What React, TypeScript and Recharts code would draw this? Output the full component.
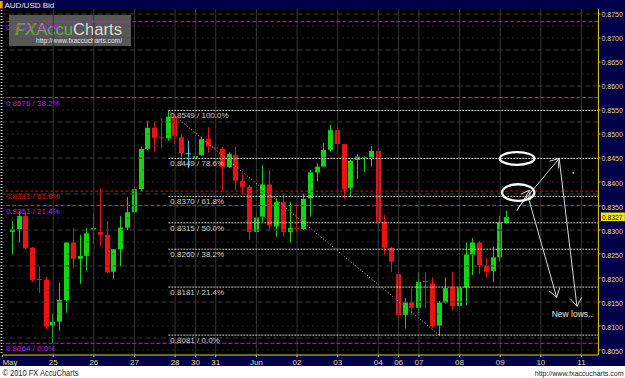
import React from 'react';
import { ComposedChart, Bar, XAxis, YAxis, ReferenceLine, ReferenceDot } from 'recharts';

// ---- data: 4-hour AUD/USD candles (bar index, 0 = first bar of May 25) ----
const barIndex = [-6, -5, -4, -3, -2, -1, 0, 1, 2, 3, 4, 5, 6, 7, 8, 9, 10, 11, 12, 13, 14, 15, 16, 17, 18, 19, 20, 21, 22, 23, 24, 25, 26, 27, 28, 29, 30, 31, 32, 33, 34, 35, 36, 37, 38, 39, 40, 41, 42, 43, 44, 45, 46, 47, 48, 49, 50, 51, 52, 53, 54, 55, 56, 57, 58, 59, 60, 61, 62, 63, 64, 65, 66, 67];
const openP = [0.8296, 0.8302, 0.8329, 0.8263, 0.8198, 0.8196, 0.8101, 0.8109, 0.8154, 0.8274, 0.8240, 0.8246, 0.8301, 0.8296, 0.8290, 0.8213, 0.8260, 0.8305, 0.8337, 0.8385, 0.8469, 0.8513, 0.8493, 0.8491, 0.8536, 0.8493, 0.8460, 0.8449, 0.8456, 0.8490, 0.8472, 0.8469, 0.8431, 0.8456, 0.8402, 0.8390, 0.8296, 0.8328, 0.8395, 0.8307, 0.8358, 0.8296, 0.8304, 0.8302, 0.8366, 0.8420, 0.8432, 0.8467, 0.8508, 0.8479, 0.8388, 0.8446, 0.8449, 0.8451, 0.8465, 0.8317, 0.8263, 0.8208, 0.8123, 0.8149, 0.8138, 0.8194, 0.8189, 0.8101, 0.8149, 0.8180, 0.8142, 0.8180, 0.8249, 0.8274, 0.8226, 0.8215, 0.8243, 0.8315];
const highP = [0.8319, 0.8338, 0.8338, 0.8265, 0.8224, 0.8203, 0.8126, 0.8190, 0.8274, 0.8304, 0.8290, 0.8304, 0.8335, 0.8387, 0.8319, 0.8260, 0.8329, 0.8369, 0.8415, 0.8474, 0.8528, 0.8524, 0.8533, 0.8549, 0.8543, 0.8501, 0.8486, 0.8473, 0.8495, 0.8514, 0.8479, 0.8473, 0.8462, 0.8474, 0.8418, 0.8394, 0.8338, 0.8435, 0.8425, 0.8366, 0.8373, 0.8358, 0.8354, 0.8376, 0.8425, 0.8439, 0.8481, 0.8519, 0.8520, 0.8479, 0.8446, 0.8458, 0.8453, 0.8475, 0.8470, 0.8331, 0.8265, 0.8224, 0.8158, 0.8179, 0.8212, 0.8212, 0.8201, 0.8152, 0.8201, 0.8213, 0.8201, 0.8274, 0.8283, 0.8277, 0.8242, 0.8265, 0.8330, 0.8340];
const lowP = [0.8249, 0.8274, 0.8260, 0.8192, 0.8169, 0.8093, 0.8064, 0.8090, 0.8128, 0.8220, 0.8188, 0.8215, 0.8271, 0.8267, 0.8210, 0.8198, 0.8224, 0.8299, 0.8335, 0.8380, 0.8467, 0.8463, 0.8470, 0.8486, 0.8479, 0.8435, 0.8429, 0.8429, 0.8455, 0.8461, 0.8441, 0.8382, 0.8429, 0.8383, 0.8374, 0.8279, 0.8279, 0.8317, 0.8300, 0.8286, 0.8286, 0.8274, 0.8296, 0.8300, 0.8328, 0.8402, 0.8432, 0.8463, 0.8462, 0.8365, 0.8369, 0.8406, 0.8421, 0.8432, 0.8296, 0.8249, 0.8212, 0.8102, 0.8095, 0.8123, 0.8123, 0.8137, 0.8096, 0.8081, 0.8147, 0.8133, 0.8130, 0.8144, 0.8206, 0.8208, 0.8201, 0.8192, 0.8234, 0.8313];
const closeP = [0.8301, 0.8329, 0.8262, 0.8196, 0.8196, 0.8099, 0.8109, 0.8154, 0.8274, 0.8240, 0.8246, 0.8293, 0.8304, 0.8290, 0.8212, 0.8260, 0.8305, 0.8337, 0.8385, 0.8469, 0.8513, 0.8492, 0.8491, 0.8536, 0.8496, 0.8460, 0.8458, 0.8454, 0.8489, 0.8474, 0.8471, 0.8432, 0.8458, 0.8403, 0.8390, 0.8296, 0.8326, 0.8395, 0.8309, 0.8358, 0.8296, 0.8304, 0.8302, 0.8365, 0.8420, 0.8432, 0.8467, 0.8508, 0.8479, 0.8385, 0.8444, 0.8453, 0.8451, 0.8465, 0.8317, 0.8263, 0.8234, 0.8123, 0.8149, 0.8138, 0.8192, 0.8192, 0.8099, 0.8149, 0.8179, 0.8142, 0.8180, 0.8249, 0.8274, 0.8227, 0.8213, 0.8243, 0.8316, 0.8327];
const highlightBar = 20;

// ---- axes ----
const xDomain = [-7.5, 80.5];
const dayTicks = [-7.5, 0, 6, 12, 18, 21, 24, 30, 36, 42, 48, 51, 54, 60, 66, 72, 78];
const dayLabels = ['May', '25', '26', '27', '28', '30', '31', 'Jun', '02', '03', '04', '06', '07', '08', '09', '10', '11'];
const yDomain = [0.80396, 0.87604];
const priceTicks = [0.805, 0.81, 0.815, 0.82, 0.825, 0.83, 0.835, 0.84, 0.845, 0.85, 0.855, 0.86, 0.865, 0.87, 0.875];
const gridMajor = [0.875, 0.8675, 0.86, 0.8525, 0.845, 0.8375, 0.83, 0.8225, 0.815, 0.8075];
const gridMinor = [0.8725, 0.87, 0.865, 0.8625, 0.8575, 0.855, 0.85, 0.8475, 0.8425, 0.84, 0.835, 0.8325, 0.8275, 0.825, 0.82, 0.8175, 0.8125, 0.81, 0.805];

// ---- fibonacci annotations ----
const fibWideLevels = [0.8734, 0.8576, 0.8351, 0.8064];
const fibWidePct = ['50.0%', '38.2%', '21.4%', '0.0%'];
const fibRedLevel = 0.8381;
const fibRedPct = '61.8%';
const fibLevels = [0.8549, 0.8449, 0.837, 0.8315, 0.826, 0.8181, 0.8081];
const fibPct = ['100.0%', '78.6%', '61.8%', '50.0%', '38.2%', '21.4%', '0.0%'];
const fibStartBar = 17;
const trendStart = { x: 17, y: 0.8549 };
const trendEnd = { x: 57, y: 0.8081 };

// ---- hand-drawn projection ----
const ringCenters = [{ x: 68.5, y: 0.8449 }, { x: 68.66, y: 0.8378 }];
const arrowFrom = [{ x: 68.46, y: 0.834 }, { x: 70.13, y: 0.8369 }, { x: 68.55, y: 0.8345 }, { x: 74.71, y: 0.8449 }];
const arrowTo = [{ x: 70.36, y: 0.8383 }, { x: 74.33, y: 0.816 }, { x: 74.71, y: 0.8449 }, { x: 77.33, y: 0.8141 }];
const noteAt = { x: 73.6, y: 0.8119 };
const noteText = 'New lows..';
const dotAt = { x: 76.78, y: 0.8419 };

const rows = barIndex.map((idx, i) => ({ idx, open: openP[i], high: highP[i], low: lowP[i], close: closeP[i] }));
const lastClose = closeP[closeP.length - 1];

// ---- style ----
const FONT = '"Liberation Sans", Arial, Helvetica, sans-serif';
const NAVY = '#00004a';
const GREEN = '#12d412';
const RED = '#f01010';
const CYAN = '#40c8f0';
const AXIS_Y = '#e8d200';
const MAGENTA = '#cc11cc';
const MAGENTA_TXT = '#c414e8';
const FIB = '#c8d0c0';
const RING_SIZE = [[17.3, 6.3], [16.2, 8.3]];

function Candle(props: any) {
  const { x, y, width, height, payload } = props;
  if (!payload || payload.high == null) return null;
  const top = Math.min(y, y + height);
  const h = Math.abs(height);
  const span = payload.high - payload.low;
  const k = span > 0 ? h / span : 0;
  const yO = top + (payload.high - payload.open) * k;
  const yC = top + (payload.high - payload.close) * k;
  const color = payload.idx === highlightBar ? CYAN : payload.close >= payload.open ? GREEN : RED;
  const cx = Math.floor(x + width / 2);
  const bTop = Math.min(yO, yC);
  const bH = Math.max(1, Math.abs(yO - yC));
  return (
    <g>
      <line x1={cx + 0.5} x2={cx + 0.5} y1={top} y2={top + h} stroke={color} strokeWidth={1} />
      <rect x={cx - 2} y={bTop} width={5} height={bH} fill={color} />
    </g>
  );
}

function XTick(props: any) {
  const { x, y, payload } = props;
  const i = dayTicks.indexOf(payload.value);
  const first = i === 0;
  return (
    <text x={x} y={y + 6} textAnchor={first ? 'start' : 'middle'} fill="#e8dc90" fontSize={8} fontFamily={FONT}>
      {dayLabels[i]}
    </text>
  );
}

function YTick(props: any) {
  const { x, y, payload } = props;
  return (
    <text x={x} y={y + 3.5} fill="#e4d870" fontSize={8} fontFamily={FONT} textLength={21.5} lengthAdjust="spacingAndGlyphs">
      {Number(payload.value).toFixed(4)}
    </text>
  );
}

const fibLabel = (text: string, color: string, dx: number) => (p: any) => {
  const vb = p.viewBox;
  if (!vb) return null;
  return (
    <text x={vb.x + dx} y={vb.y + 8} fill={color} fontSize={8} fontFamily={FONT}>
      {text}
    </text>
  );
};

const priceTag = (p: any) => {
  const vb = p.viewBox;
  if (!vb) return null;
  const px = vb.x + vb.width;
  return (
    <g>
      <rect x={px + 2.5} y={vb.y - 4.5} width={24} height={8.5} fill="#f4ec00" />
      <text x={px + 3.5} y={vb.y + 3} fill="#00003a" fontSize={8} fontFamily={FONT} textLength={20.5} lengthAdjust="spacingAndGlyphs">
        {lastClose.toFixed(4)}
      </text>
    </g>
  );
};

function Arrow(p: any) {
  const x1 = Number(p.x1), y1 = Number(p.y1), x2 = Number(p.x2), y2 = Number(p.y2);
  const th = Math.atan2(y2 - y1, x2 - x1);
  const L = 10;
  const phi = 0.6;
  const a1x = x2 - L * Math.cos(th - phi);
  const a1y = y2 - L * Math.sin(th - phi);
  const a2x = x2 - L * Math.cos(th + phi);
  const a2y = y2 - L * Math.sin(th + phi);
  return (
    <g>
      <line x1={x1} y1={y1} x2={x2} y2={y2} stroke="#d8d8d8" strokeWidth={1} />
      <polyline points={`${a1x},${a1y} ${x2},${y2} ${a2x},${a2y}`} fill="none" stroke="#d8d8d8" strokeWidth={1} />
    </g>
  );
}

export default function App() {
  return (
    <div style={{ position: 'absolute', left: 0, top: 0, width: 625, height: 378, background: '#fff', overflow: 'hidden' }}>
      <svg width={625} height={378} style={{ position: 'absolute', left: 0, top: 0 }}>
        <rect x={0} y={0} width={625} height={366} fill={NAVY} />
        <rect x={0} y={9} width={598.4} height={346} fill="#000" />
        <rect x={0} y={1} width={2.7} height={7.5} fill="#f0a000" />
        <text x={4.5} y={7.8} fill="#f4f0c0" fontSize={8} fontFamily={FONT}>AUD/USD Bid</text>
        <line x1={1.5} x2={1.5} y1={10} y2={355} stroke="#c8c8c8" strokeWidth={2} strokeDasharray="1 2" />
        <g>
          <rect x={9} y={15} width={122} height={31} fill="#808080" opacity={0.68} />
          <text x={15} y={35} fontSize={17} fontFamily={FONT} textLength={107} lengthAdjust="spacingAndGlyphs">
            <tspan fill="#6a9a3a" fontStyle="italic" fontWeight="bold">FX</tspan>
            <tspan fill="#6fa860">Accu</tspan>
            <tspan fill="#dcdcdc">Charts</tspan>
          </text>
          <text x={36} y={43} fontSize={7.5} fontFamily={FONT} fill="#e4e4e4" textLength={86} lengthAdjust="spacingAndGlyphs">http://www.fxaccucharts.com/</text>
        </g>
        <text x={2.5} y={376} fontSize={9} fontFamily={FONT} fill="#222" textLength={76} lengthAdjust="spacingAndGlyphs">© 2010 FX AccuCharts</text>
        <text x={623.5} y={376} fontSize={7} fontFamily={FONT} fill="#222" textAnchor="end">http://www.fxaccucharts.com</text>
      </svg>
      <div style={{ position: 'absolute', left: 0, top: 0 }}>
        <ComposedChart width={625} height={366} data={rows} margin={{ top: 9, right: 0, bottom: 0, left: 2.4 }}>
          <XAxis
            dataKey="idx"
            type="number"
            domain={xDomain}
            ticks={dayTicks}
            interval={0}
            allowDataOverflow
            height={11}
            tickSize={2}
            tickMargin={2}
            axisLine={{ stroke: '#d8c840' }}
            tickLine={{ stroke: '#d8c840' }}
            tick={(p: any) => <XTick {...p} />}
          />
          <YAxis
            orientation="right"
            type="number"
            domain={yDomain}
            ticks={priceTicks}
            interval={0}
            allowDataOverflow
            width={26.6}
            tickSize={2}
            tickMargin={1}
            axisLine={{ stroke: AXIS_Y }}
            tickLine={{ stroke: AXIS_Y }}
            tick={(p: any) => <YTick {...p} />}
          />
          {dayTicks.slice(1).map((t) => (
            <ReferenceLine key={`vx${t}`} x={t} stroke="#353535" strokeWidth={1} />
          ))}
          {gridMajor.map((g) => (
            <ReferenceLine key={`gM${g}`} y={g} stroke="#3c3c3c" strokeDasharray="5 3" />
          ))}
          {gridMinor.map((g) => (
            <ReferenceLine key={`gm${g}`} y={g} stroke="#474747" strokeDasharray="1 4" />
          ))}
          {fibWideLevels.map((lv, i) => (
            <ReferenceLine
              key={`fw${lv}`}
              y={lv}
              stroke={MAGENTA}
              strokeDasharray="4 2"
              label={{ content: fibLabel(`${lv.toFixed(4)} / ${fibWidePct[i]}`, MAGENTA_TXT, 3.5) }}
            />
          ))}
          <ReferenceLine
            y={fibRedLevel}
            stroke="#dd1111"
            strokeDasharray="3 2"
            label={{ content: fibLabel(`${fibRedLevel.toFixed(4)} / ${fibRedPct}`, '#d41414', 3.5) }}
          />
          {fibLevels.map((lv, i) => (
            <ReferenceLine
              key={`fb${lv}`}
              segment={[{ x: fibStartBar, y: lv }, { x: xDomain[1], y: lv }]}
              ifOverflow="visible"
              stroke={FIB}
              strokeDasharray="2 1"
              label={{ content: fibLabel(`${lv.toFixed(4)} / ${fibPct[i]}`, FIB, 2) }}
            />
          ))}
          <ReferenceLine segment={[trendStart, trendEnd]} stroke="#b0b0b0" strokeDasharray="1 2" ifOverflow="visible" />
          <Bar dataKey={(d: any) => [d.low, d.high]} shape={(p: any) => <Candle {...p} />} isAnimationActive={false} />
          <ReferenceLine y={lastClose} stroke="none" ifOverflow="visible" label={{ content: priceTag }} />
          {ringCenters.map((c, i) => (
            <ReferenceDot
              key={`ring${i}`}
              x={c.x}
              y={c.y}
              r={1}
              ifOverflow="visible"
              shape={(p: any) => (
                <ellipse cx={p.cx} cy={p.cy} rx={RING_SIZE[i][0]} ry={RING_SIZE[i][1]} fill="none" stroke="#ffffff" strokeWidth={2.3} />
              )}
            />
          ))}
          {arrowFrom.map((a, i) => (
            <ReferenceLine key={`ar${i}`} segment={[a, arrowTo[i]]} ifOverflow="visible" shape={(p: any) => <Arrow {...p} />} />
          ))}
          <ReferenceDot x={dotAt.x} y={dotAt.y} r={0.8} fill="#dddddd" stroke="none" ifOverflow="visible" />
          <ReferenceDot
            x={noteAt.x}
            y={noteAt.y}
            r={1}
            ifOverflow="visible"
            shape={(p: any) => (
              <text x={p.cx} y={p.cy} fill="#eee4cc" fontSize={8.5} fontFamily={FONT}>
                {noteText}
              </text>
            )}
          />
        </ComposedChart>
      </div>
    </div>
  );
}
